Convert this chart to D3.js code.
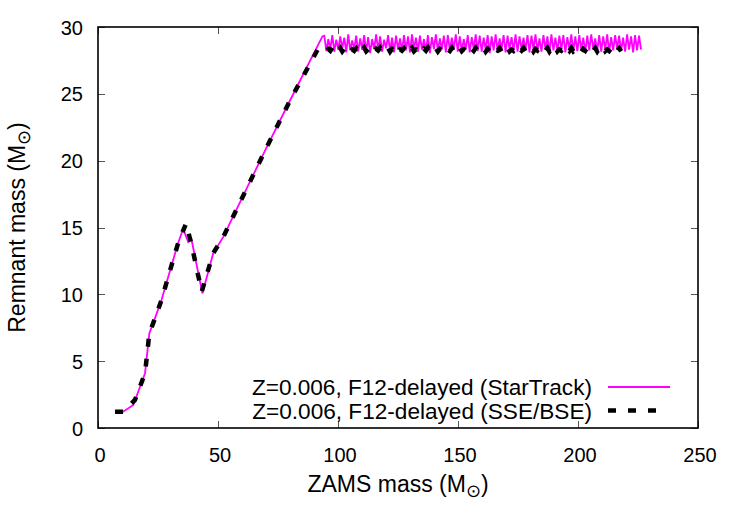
<!DOCTYPE html>
<html>
<head>
<meta charset="utf-8">
<script src="https://cdn.jsdelivr.net/npm/d3@7"></script>
<style>
  body { margin: 0; background: #fff; }
  text { font-family: "Liberation Sans", Arial, Helvetica, sans-serif; fill: #000; }
</style>
</head>
<body>
<div id="chart"></div>
<script>
// --- data ---
// StarTrack curve up to the start of the plateau: [ZAMS mass, remnant mass]
var startrackCurve = [
  [7.1, 1.22], [10.5, 1.22], [14.7, 1.72], [19.6, 4.1], [21.4, 7.1], [23.0, 7.85],
  [26.5, 9.6], [30.7, 12.2], [33.5, 13.9], [35.5, 14.9], [37.6, 13.9], [39.0, 14.06],
  [43.5, 10.07], [48.0, 13.07], [52.2, 14.3], [59.2, 16.9], [70, 20.9], [80, 24.5],
  [93.5, 29.3]
];
// SSE/BSE curve up to its plateau
var ssebseCurve = [
  [7.1, 1.22], [10.5, 1.22], [15.4, 2.1], [19.6, 4.1], [21.4, 7.1], [23.0, 7.85],
  [26.5, 9.6], [30.7, 12.2], [33.5, 13.9], [36.7, 15.3], [39.0, 13.7], [43.2, 10.2],
  [48.0, 13.07], [52.2, 14.3], [59.2, 16.9], [70, 20.9], [80, 24.5], [91.5, 28.3]
];
// plateau samples (the wiggly part), first mass and spacing of the sampling grid
var plateauStart = 94.3;
var plateauStep = 0.83;
var startrackPlateau = [
  29.35, 28.20, 29.10, 28.35, 29.40, 28.15, 29.05, 28.30, 29.30, 28.40,
  29.20, 28.10, 29.45, 28.25, 29.00, 28.35, 29.35, 28.15, 29.15, 28.30,
  29.40, 28.20, 29.25, 28.05, 29.10, 28.35, 29.45, 28.25, 29.30, 28.15,
  29.05, 28.40, 29.40, 28.20, 29.20, 28.10, 29.35, 28.30, 29.15, 28.20,
  29.40, 28.25, 29.30, 28.10, 29.45, 28.35, 29.20, 28.15, 29.35, 28.30,
  29.10, 28.20, 29.40, 28.05, 29.25, 28.35, 29.45, 28.20, 29.15, 28.30,
  29.35, 28.10, 29.40, 28.25, 29.20, 28.35, 29.45, 28.15, 29.30, 28.20,
  29.10, 28.30, 29.40, 28.10, 29.25, 28.35, 29.45, 28.20, 29.35, 28.15,
  29.20, 28.30, 29.40, 28.05, 29.30, 28.25, 29.45, 28.20, 29.15, 28.35,
  29.40, 28.10, 29.35, 28.30, 29.25, 28.20, 29.45, 28.15, 29.30, 28.35,
  29.20, 28.25, 29.40, 28.10, 29.35, 28.30, 29.45, 28.20, 29.15, 28.15,
  29.40, 28.35, 29.30, 28.05, 29.45, 28.25, 29.20, 28.20, 29.35, 28.30,
  29.40, 28.10, 29.25, 28.35, 29.45, 28.15, 29.30, 28.20, 29.40, 28.30,
  29.20, 28.10, 29.35, 28.25, 29.45, 28.35, 29.15, 28.20, 29.40, 28.15,
  29.30, 28.30, 29.45, 28.10, 29.25, 28.25, 29.40, 28.35, 29.35, 28.20,
  29.20, 28.15, 29.45, 28.30, 29.30, 28.10, 29.40, 28.25, 29.35, 28.30
];
var ssebsePlateau = [
  28.40, 28.18, 28.35, 28.22, 28.45, 28.15, 28.30, 28.20, 28.42, 28.17,
  28.36, 28.24, 28.44, 28.16, 28.32, 28.21, 28.40, 28.15, 28.38, 28.23,
  28.45, 28.18, 28.33, 28.20, 28.41, 28.16, 28.37, 28.24, 28.44, 28.19,
  28.31, 28.22, 28.42, 28.15, 28.36, 28.21, 28.45, 28.17, 28.34, 28.23,
  28.40, 28.16, 28.38, 28.20, 28.43, 28.18, 28.32, 28.24, 28.41, 28.15,
  28.37, 28.22, 28.45, 28.17, 28.33, 28.21, 28.40, 28.16, 28.36, 28.23,
  28.44, 28.18, 28.31, 28.20, 28.42, 28.15, 28.38, 28.24, 28.45, 28.19,
  28.34, 28.22, 28.41, 28.16, 28.37, 28.21, 28.43, 28.17, 28.32, 28.23,
  28.40, 28.15, 28.36, 28.20, 28.44, 28.18, 28.33, 28.24, 28.42, 28.16,
  28.38, 28.22, 28.45, 28.17, 28.31, 28.21, 28.40, 28.15, 28.37, 28.23,
  28.43, 28.19, 28.34, 28.20, 28.41, 28.16, 28.36, 28.24, 28.44, 28.18,
  28.32, 28.22, 28.42, 28.15, 28.38, 28.21, 28.45, 28.17, 28.33, 28.23,
  28.40, 28.16, 28.37, 28.20, 28.43, 28.18, 28.31, 28.24, 28.41, 28.15,
  28.36, 28.22, 28.44, 28.17, 28.34, 28.21, 28.42, 28.16, 28.38, 28.23,
  28.45, 28.19, 28.32, 28.20, 28.40, 28.15, 28.37, 28.22, 28.41, 28.18
];
var xTicks = [0, 50, 100, 150, 200, 250];
var yTicks = [0, 5, 10, 15, 20, 25, 30];
var seriesNames = ["Z=0.006, F12-delayed (StarTrack)", "Z=0.006, F12-delayed (SSE/BSE)"];


RemnantChart = function(_parentElement) {
    this.parentElement = _parentElement;
    this.initVis();
};

RemnantChart.prototype.initVis = function() {
    var vis = this;

    vis.width = 750;
    vis.height = 525;
    vis.margin = { top: 27, right: 52, bottom: 97, left: 98 };
    vis.w = vis.width - vis.margin.left - vis.margin.right;
    vis.h = vis.height - vis.margin.top - vis.margin.bottom;

    vis.svg = d3.select(vis.parentElement)
        .append("svg")
        .attr("width", vis.width)
        .attr("height", vis.height);

    vis.g = vis.svg.append("g")
        .attr("transform", "translate(" + vis.margin.left + "," + vis.margin.top + ")");

    vis.x = d3.scaleLinear().domain([0, 250]).range([0, vis.w]);
    vis.y = d3.scaleLinear().domain([0, 30]).range([vis.h, 0]);

    vis.line = d3.line()
        .x(function(d) { return vis.x(d[0]); })
        .y(function(d) { return vis.y(d[1]); });

    vis.wrangleData();
};

RemnantChart.prototype.wrangleData = function() {
    var vis = this;

    // glue the plateau samples onto the end of each curve
    function plateau(vals) {
        return vals.map(function(v, i) { return [plateauStart + i * plateauStep, v]; });
    }
    vis.startrack = startrackCurve.concat(plateau(startrackPlateau));
    vis.ssebse = ssebseCurve.concat(plateau(ssebsePlateau));

    vis.updateVis();
};

RemnantChart.prototype.updateVis = function() {
    var vis = this;
    var tickFs = 20, titleFs = 23, legendFs = 22.6;

    // tick marks, mirrored on all four sides
    var tickLen = 7;
    var ticks = vis.g.append("g").attr("stroke", "#555").attr("stroke-width", 1);
    xTicks.forEach(function(t) {
        var px = Math.round(vis.x(t)) + 0.5;
        ticks.append("line").attr("x1", px).attr("x2", px).attr("y1", vis.h).attr("y2", vis.h - tickLen);
        ticks.append("line").attr("x1", px).attr("x2", px).attr("y1", 0).attr("y2", tickLen);
    });
    yTicks.forEach(function(t) {
        var py = Math.round(vis.y(t)) + 0.5;
        ticks.append("line").attr("x1", 0).attr("x2", tickLen).attr("y1", py).attr("y2", py);
        ticks.append("line").attr("x1", vis.w).attr("x2", vis.w - tickLen).attr("y1", py).attr("y2", py);
    });

    // tick labels
    vis.g.selectAll(".xlab").data(xTicks).enter().append("text")
        .attr("x", function(d) { return vis.x(d) + 2; })
        .attr("y", vis.h + 34)
        .attr("text-anchor", "middle")
        .style("font-size", tickFs + "px")
        .text(function(d) { return d; });

    vis.g.selectAll(".ylab").data(yTicks).enter().append("text")
        .attr("x", -15)
        .attr("y", function(d) { return vis.y(d) + 7.5; })
        .attr("text-anchor", "end")
        .style("font-size", tickFs + "px")
        .text(function(d) { return d; });

    // axis titles
    var xt = vis.g.append("text")
        .attr("x", vis.w / 2)
        .attr("y", vis.h + 64)
        .attr("text-anchor", "middle")
        .style("font-size", titleFs + "px");
    xt.append("tspan").text("ZAMS mass (M");
    xt.append("tspan").attr("dy", 5).style("font-size", "18px").text("\u2299");
    xt.append("tspan").attr("dy", -5).text(")");

    var yt = vis.g.append("text")
        .attr("transform", "translate(" + (-73) + "," + (vis.h / 2) + ") rotate(-90)")
        .attr("text-anchor", "middle")
        .style("font-size", titleFs + "px");
    yt.append("tspan").text("Remnant mass (M");
    yt.append("tspan").attr("dy", 5).style("font-size", "18px").text("\u2299");
    yt.append("tspan").attr("dy", -5).text(")");

    // curves
    vis.g.append("path")
        .datum(vis.startrack)
        .attr("fill", "none")
        .attr("stroke", "#ff00ff")
        .attr("stroke-width", 1.8)
        .attr("d", vis.line);

    vis.g.append("path")
        .datum(vis.ssebse)
        .attr("fill", "none")
        .attr("stroke", "#000")
        .attr("stroke-width", 4.5)
        .attr("stroke-dasharray", "8,12")
        .attr("d", vis.line);

    // legend
    var legendRight = 494;
    var legend = vis.g.append("g");
    seriesNames.forEach(function(name, i) {
        var ly = 360 + i * 23.5;
        legend.append("text")
            .attr("x", legendRight)
            .attr("y", ly + 8)
            .attr("text-anchor", "end")
            .style("font-size", legendFs + "px")
            .text(name);
        var sample = legend.append("line")
            .attr("y1", ly).attr("y2", ly)
            .attr("fill", "none");
        if (i === 0) {
            sample.attr("x1", 510).attr("x2", 572)
                .attr("stroke", "#ff00ff").attr("stroke-width", 1.8);
        } else {
            sample.attr("x1", 510).attr("x2", 560)
                .attr("stroke", "#000").attr("stroke-width", 4.5).attr("stroke-dasharray", "8,12");
        }
    });

    // border
    vis.g.append("rect")
        .attr("x", 0).attr("y", 0)
        .attr("width", vis.w).attr("height", vis.h)
        .attr("fill", "none")
        .attr("stroke", "#000")
        .attr("stroke-width", 1.6);
};

var chart = new RemnantChart("#chart");
</script>
</body>
</html>
